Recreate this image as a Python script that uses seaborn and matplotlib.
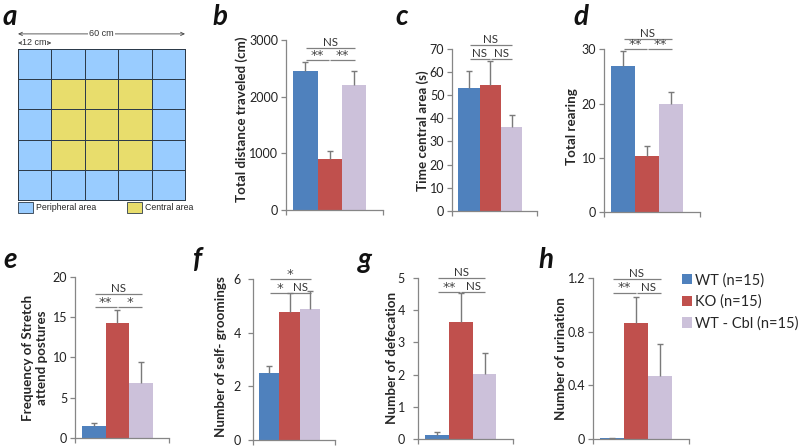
import numpy as np
import pandas as pd
import matplotlib
matplotlib.use("Agg")
import matplotlib.pyplot as plt
from matplotlib.colors import ListedColormap
from matplotlib.patches import Patch
import seaborn as sns

# ---------------- data ----------------
groups = ["WT (n=15)", "KO (n=15)", "WT - Cbl (n=15)"]
colors = ["#4F81BD", "#C0504D", "#CCC1DA"]

distance_mean = [2450, 895, 2200]
distance_sem = [155, 145, 258]
central_mean = [53.2, 54.4, 36.1]
central_sem = [7.4, 10.4, 5.4]
rearing_mean = [26.9, 10.3, 20.0]
rearing_sem = [2.8, 1.9, 2.2]
stretch_mean = [1.5, 14.2, 6.8]
stretch_sem = [0.4, 1.7, 2.6]
groom_mean = [2.48, 4.76, 4.88]
groom_sem = [0.28, 0.71, 0.67]
defec_mean = [0.13, 3.62, 2.01]
defec_sem = [0.11, 0.90, 0.65]
urin_mean = [0.01, 0.86, 0.47]
urin_sem = [0.0, 0.20, 0.235]

ticks_b = [0, 1000, 2000, 3000]
ticks_c = [0, 10, 20, 30, 40, 50, 60, 70]
ticks_d = [0, 10, 20, 30]
ticks_e = [0, 5, 10, 15, 20]
ticks_f = [0, 2, 4, 6]
ticks_g = [0, 1, 2, 3, 4, 5]
ticks_h = [0, 0.4, 0.8, 1.2]
ticklabels_h = ["0", "0.4", "0.8", "1.2"]

# significance labels: (from, to, label)
sig_b = [(0, 2, "NS"), (0, 1, "**"), (1, 2, "**")]
sig_c = [(0, 2, "NS"), (0, 1, "NS"), (1, 2, "NS")]
sig_d = [(0, 2, "NS"), (0, 1, "**"), (1, 2, "**")]
sig_e = [(0, 2, "NS"), (0, 1, "**"), (1, 2, "*")]
sig_f = [(0, 2, "*"), (0, 1, "*"), (1, 2, "NS")]
sig_g = [(0, 2, "NS"), (0, 1, "**"), (1, 2, "NS")]
sig_h = [(0, 2, "NS"), (0, 1, "**"), (1, 2, "NS")]

# open-field arena: 1 = central, 0 = peripheral
arena = np.array([[0, 0, 0, 0, 0],
                  [0, 1, 1, 1, 0],
                  [0, 1, 1, 1, 0],
                  [0, 1, 1, 1, 0],
                  [0, 0, 0, 0, 0]])

# ---------------- style ----------------
sns.set_style("ticks")
plt.rcParams["font.family"] = ["Lato", "DejaVu Sans"]

W, H = 798, 446
fig = plt.figure(figsize=(W / 100, H / 100), dpi=100)


def px_axes(x0, ytop, w, ybot):
    return fig.add_axes([x0 / W, 1 - ybot / H, w / W, (ybot - ytop) / H])


def ptext(x, y, s, **kw):
    fig.text(x / W, 1 - y / H, s, **kw)


palette = dict(zip(groups, colors))
axis_gray = "#868686"

panels = [
    # letter, mean, sem, ticks, ticklabels, ylabel, sig, sig heights, rect, ylabel center px, tick pad
    ("b", distance_mean, distance_sem, ticks_b, None, "Total distance traveled (cm)",
     sig_b, [2860, 2645, 2645], (286, 40, 97, 210), (242, 119), 2),
    ("c", central_mean, central_sem, ticks_c, None, "Time central area (s)",
     sig_c, [71.7, 65.5, 65.5], (452, 49, 85, 210.7), (423, 131), 2),
    ("d", rearing_mean, rearing_sem, ticks_d, None, "Total rearing",
     sig_d, [31.9, 30.05, 30.05], (604, 49.3, 96, 212), (572, 127), 2),
    ("e", stretch_mean, stretch_sem, ticks_e, None, "Frequency of Stretch\nattend postures",
     sig_e, [17.8, 16.2, 16.2], (75, 276.7, 94, 438), (35, 358), 2),
    ("f", groom_mean, groom_sem, ticks_f, None, "Number of self- groomings",
     sig_f, [6.0, 5.49, 5.49], (252.7, 279, 82, 440), (221, 357), 5),
    ("g", defec_mean, defec_sem, ticks_g, None, "Number of defecation",
     sig_g, [4.98, 4.57, 4.57], (418, 277.7, 95, 439.3), (392, 358), 6),
    ("h", urin_mean, urin_sem, ticks_h, ticklabels_h, "Number of urination",
     sig_h, [1.19, 1.09, 1.09], (593, 277.7, 96, 439.3), (561, 359), 2),
]

for letter, mean, sem, ticks, tlabels, ylabel, sig, sig_y, rect, lab, pad in panels:
    x0, ytop, w, ybot = rect
    ax = px_axes(x0, ytop, w, ybot)
    df = pd.DataFrame({"group": groups, "value": mean})
    sns.barplot(data=df, x="group", y="value", hue="group", palette=palette,
                order=groups, hue_order=groups, width=1.0, saturation=1,
                legend=False, linewidth=0, ax=ax)
    eb = ax.errorbar(np.arange(len(mean)), mean,
                     yerr=[np.zeros(len(sem)), np.asarray(sem)],
                     fmt="none", ecolor="#7a7a7a", elinewidth=1.0, capsize=2.2,
                     capthick=1.0, zorder=3)
    eb[1][0].set_visible(False)
    ax.set_xlim(-0.8, 3.2)
    ax.set_ylim(ticks[0], ticks[-1])
    ax.set_yticks(ticks)
    if tlabels is not None:
        ax.set_yticklabels(tlabels)
    ax.set_xticks([-0.8, 3.2])
    ax.set_xticklabels([])
    ax.set_xlabel("")
    sns.despine(ax=ax)
    for s in ("left", "bottom"):
        ax.spines[s].set_color(axis_gray)
        ax.spines[s].set_linewidth(0.9)
    ax.tick_params(axis="both", direction="out", length=3.5, width=0.9,
                   color=axis_gray, labelsize=9, labelcolor="#222222", pad=2)
    ax.tick_params(axis="y", pad=pad)
    ax.set_ylabel(ylabel, fontsize=9.6, fontweight="bold", va="center",
                  ha="center", linespacing=1.25)
    ax.yaxis.set_label_coords((lab[0] - x0) / w, (ybot - lab[1]) / (ybot - ytop))
    for (i, j, s), yy in zip(sig, sig_y):
        if j - i == 1:
            a, b = (i + 0.03, j - 0.02) if i == 0 else (i + 0.02, j + 0.03)
        else:
            a, b = i + 0.03, j + 0.03
        ax.plot([a, b], [yy, yy], color="#808080", lw=0.9, clip_on=False,
                solid_capstyle="butt")
        if "*" in s:
            ax.text((a + b) / 2, yy - (ticks[-1] - ticks[0]) * 0.012, s,
                    ha="center", va="bottom", fontsize=9.5,
                    family=["DejaVu Sans"], color="#444444", clip_on=False)
        else:
            ax.text((a + b) / 2, yy, s, ha="center", va="bottom", fontsize=8.3,
                    color="#333333", clip_on=False)

# legend for groups
handles = [Patch(facecolor=c, edgecolor="none") for c in colors]
fig.legend(handles, groups, loc="upper left",
           bbox_to_anchor=(682 / W, 1 - 273 / H), frameon=False,
           fontsize=10.5, handlelength=0.7, handleheight=0.7,
           handletextpad=0.2, labelspacing=0.5, borderaxespad=0, borderpad=0)

# ---------------- panel a: arena ----------------
axa = px_axes(18, 49, 167, 200)
sns.heatmap(arena, cmap=ListedColormap(["#99CCFF", "#E8DD6C"]), cbar=False,
            linewidths=0.6, linecolor="#2d3b4a", xticklabels=False,
            yticklabels=False, square=False, ax=axa)
for c in axa.collections:
    c.set_clip_on(False)
axa.annotate("", xy=(0, -0.5), xytext=(5, -0.5), annotation_clip=False,
             arrowprops=dict(arrowstyle="<->,head_length=0.25,head_width=0.12",
                             lw=0.6, color="#444444", shrinkA=0, shrinkB=0))
axa.text(2.5, -0.5, "60 cm", ha="center", va="center", fontsize=6.5,
         family=["Liberation Sans", "DejaVu Sans"], color="#333333",
         bbox=dict(facecolor="white", edgecolor="none", pad=0.6), clip_on=False)
axa.annotate("", xy=(0, -0.2), xytext=(1, -0.2), annotation_clip=False,
             arrowprops=dict(arrowstyle="<->,head_length=0.25,head_width=0.12",
                             lw=0.6, color="#444444", shrinkA=0, shrinkB=0))
axa.text(0.5, -0.2, "12 cm", ha="center", va="center", fontsize=6.5,
         family=["Liberation Sans", "DejaVu Sans"], color="#333333",
         bbox=dict(facecolor="white", edgecolor="none", pad=0.4), clip_on=False)
area_handles = [Patch(facecolor="#99CCFF", edgecolor="#2d3b4a", lw=0.6),
                Patch(facecolor="#E8DD6C", edgecolor="#2d3b4a", lw=0.6)]
axa.legend(area_handles, ["Peripheral area", "Central area"], ncol=2,
           loc="upper left", bbox_to_anchor=(0, -0.01), frameon=False,
           prop=dict(family=["Liberation Sans", "DejaVu Sans"], size=6.3),
           handlelength=1.7, handleheight=1.6, handletextpad=0.3,
           columnspacing=3.6, borderaxespad=0, borderpad=0)

# panel letters
letters = [("a", 3, 25), ("b", 212, 25), ("c", 395, 25), ("d", 573, 25),
           ("e", 3, 268), ("f", 193, 268), ("g", 358, 268), ("h", 538, 268)]
for s, x, y in letters:
    ptext(x, y, s, fontsize=20, fontweight="bold", fontstyle="italic",
          va="baseline", ha="left", color="#111111")

fig.savefig("out.png", dpi=100)
